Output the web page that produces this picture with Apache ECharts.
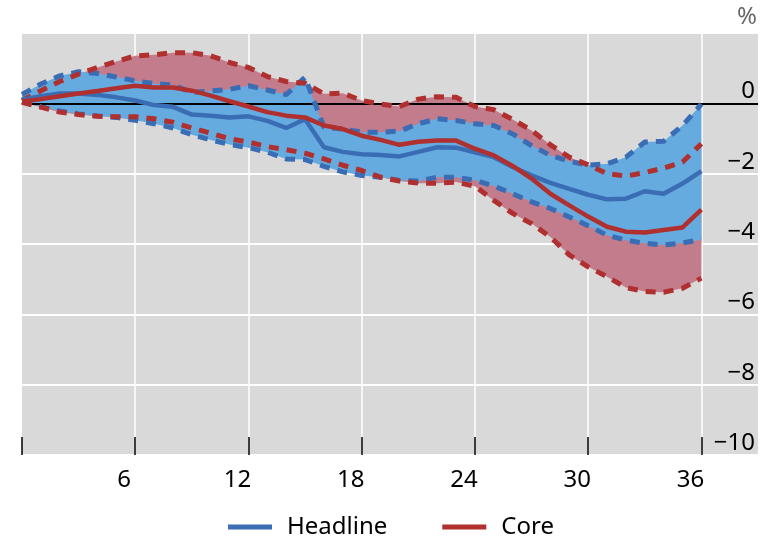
<!DOCTYPE html>
<html><head><meta charset="utf-8">
<script src="https://cdn.jsdelivr.net/npm/echarts@6/dist/echarts.min.js"></script>
<style>html,body{margin:0;padding:0;background:#fff}#c{width:761px;height:537px}</style>
</head><body><div id="c"></div>
<script>
// x categories (months after shock)
const months = ['0','1','2','3','4','5','6','7','8','9','10','11','12','13','14','15','16','17','18','19','20','21','22','23','24','25','26','27','28','29','30','31','32','33','34','35','36','37','38','39'];
const xTickLabels = ['6','12','18','24','30','36'];
const yTicks = [-10, -8, -6, -4, -2, 0];

const headline = [0.1, 0.2, 0.28, 0.28, 0.24, 0.17, 0.08, -0.05, -0.1, -0.32, -0.35, -0.4, -0.37, -0.5, -0.7, -0.45, -1.25, -1.38, -1.45, -1.47, -1.51, -1.38, -1.25, -1.26, -1.39, -1.53, -1.81, -2.05, -2.26, -2.43, -2.6, -2.73, -2.71, -2.5, -2.57, -2.28, -1.93];
const headlineUpper = [0.25, 0.55, 0.78, 0.9, 0.85, 0.75, 0.64, 0.56, 0.52, 0.31, 0.35, 0.4, 0.5, 0.38, 0.25, 0.74, -0.68, -0.73, -0.82, -0.82, -0.79, -0.58, -0.44, -0.49, -0.58, -0.63, -0.87, -1.2, -1.48, -1.65, -1.76, -1.72, -1.53, -1.1, -1.08, -0.63, -0.02];
const headlineLower = [0.05, -0.1, -0.22, -0.3, -0.36, -0.4, -0.48, -0.58, -0.7, -0.89, -1.04, -1.17, -1.26, -1.39, -1.58, -1.6, -1.79, -1.95, -2.05, -2.1, -2.19, -2.21, -2.1, -2.1, -2.19, -2.35, -2.57, -2.8, -2.99, -3.23, -3.48, -3.75, -3.89, -3.98, -4.03, -3.97, -3.87];
const core = [0.05, 0.12, 0.2, 0.28, 0.35, 0.43, 0.5, 0.45, 0.45, 0.36, 0.22, 0.06, -0.09, -0.25, -0.35, -0.4, -0.63, -0.73, -0.92, -1.04, -1.18, -1.09, -1.06, -1.06, -1.29, -1.48, -1.78, -2.14, -2.57, -2.9, -3.22, -3.51, -3.65, -3.67, -3.6, -3.53, -3.02];
const coreUpper = [0.08, 0.36, 0.62, 0.83, 1.02, 1.19, 1.35, 1.38, 1.44, 1.44, 1.35, 1.16, 1.02, 0.76, 0.62, 0.57, 0.27, 0.29, 0.08, -0.02, -0.09, 0.12, 0.19, 0.17, -0.09, -0.18, -0.46, -0.77, -1.18, -1.53, -1.75, -2.0, -2.07, -1.97, -1.84, -1.67, -1.15];
const coreLower = [0.03, -0.11, -0.25, -0.32, -0.37, -0.38, -0.38, -0.44, -0.54, -0.7, -0.85, -1.01, -1.1, -1.23, -1.32, -1.42, -1.58, -1.76, -1.91, -2.1, -2.21, -2.27, -2.27, -2.24, -2.36, -2.76, -3.13, -3.42, -3.8, -4.31, -4.65, -4.93, -5.24, -5.35, -5.37, -5.26, -4.97];

const BLUE = '#3a6db4', RED = '#b0302f';
const BLUE_FILL = '#66abe0', RED_FILL = '#c27c8b';
const FONT = 'Noto Sans';

const coreBand = coreUpper.map((v, i) => +(v - coreLower[i]).toFixed(4));
const headBand = headlineUpper.map((v, i) => +(v - headlineLower[i]).toFixed(4));
const fmt = v => v < 0 ? '\u2212' + (-v) : String(v);

function base(name, data, stack) {
  return {name, type: 'line', data, stack, stackStrategy: 'all', symbol: 'none', silent: true,
    lineStyle: {width: 0, opacity: 0}, z: 1};
}
function band(name, data, stack, color, extra) {
  return Object.assign({name, type: 'line', data, stack, stackStrategy: 'all', symbol: 'none', silent: true,
    lineStyle: {width: 0, opacity: 0}, areaStyle: {color, opacity: 1}, z: 1}, extra || {});
}
function dashed(name, data, color) {
  return {name, type: 'line', data, symbol: 'none', silent: true, z: 3,
    itemStyle: {color}, lineStyle: {color, width: 5, type: [10, 8], cap: 'butt'}};
}
function solid(name, data, color, z) {
  return {name, type: 'line', data, symbol: 'none', silent: true, z,
    itemStyle: {color}, lineStyle: {color, width: 4.5}};
}

const chart = echarts.init(document.getElementById('c'), null, {renderer: 'canvas'});
chart.setOption({
  animation: false,
  textStyle: {fontFamily: FONT},
  grid: {left: 22, top: 33, right: 3, bottom: 82, show: true, backgroundColor: '#d9d9d9', borderWidth: 0},
  legend: {
    data: ['Headline', 'Core'], left: 228, top: 515, icon: 'rect', itemWidth: 44, itemHeight: 5,
    itemGap: 55, padding: 0,
    textStyle: {fontSize: 24, color: '#000', fontFamily: FONT, padding: [0, 0, 0, 10]}
  },
  xAxis: {
    type: 'category', data: months, boundaryGap: false,
    axisLine: {show: false, onZero: false},
    axisTick: {show: true, inside: true, length: 18, interval: (i) => i % 6 === 0 && i <= 36,
      lineStyle: {color: '#000', width: 1.5}},
    axisLabel: {show: true, interval: (i, v) => xTickLabels.includes(v), fontSize: 24, color: '#000',
      fontFamily: FONT, margin: 13, padding: [0, 22, 0, 0]},
    splitLine: {show: true, interval: (i) => i % 6 === 0 && i > 0 && i <= 36,
      lineStyle: {color: '#ffffff', width: 1.5}}
  },
  yAxis: {
    type: 'value', position: 'right', min: -10, max: 2, interval: 2,
    name: '%', nameLocation: 'end', nameGap: 4,
    nameTextStyle: {fontSize: 24, color: '#666', align: 'right', fontFamily: FONT, padding: [0, 1, 0, 0]},
    axisLine: {show: false}, axisTick: {show: false},
    axisLabel: {inside: true, margin: 3, verticalAlign: 'bottom', align: 'right', fontSize: 24, color: '#000',
      fontFamily: FONT, formatter: v => yTicks.includes(v) ? fmt(v) : ''},
    splitLine: {show: true, lineStyle: {color: '#ffffff', width: 2}}
  },
  series: [
    base('coreBase', coreLower, 'core'),
    band('coreBand', coreBand, 'core', RED_FILL),
    base('headBase', headlineLower, 'head'),
    band('headBand', headBand, 'head', BLUE_FILL, {
      markLine: {silent: true, symbol: 'none', z: 2, label: {show: false},
        lineStyle: {color: '#000', width: 2, type: 'solid'}, data: [{yAxis: 0}]}
    }),
    dashed('Headline upper', headlineUpper, BLUE),
    dashed('Headline lower', headlineLower, BLUE),
    dashed('Core upper', coreUpper, RED),
    dashed('Core lower', coreLower, RED),
    solid('Headline', headline, BLUE, 4),
    solid('Core', core, RED, 5)
  ]
});
</script>
</body></html>
